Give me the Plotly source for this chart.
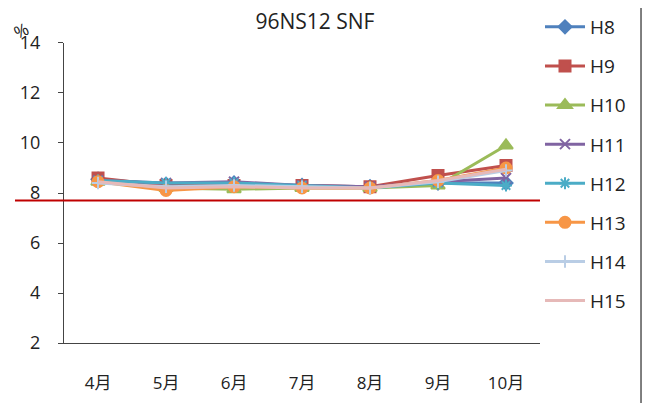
import plotly.graph_objects as go

months = ["4月", "5月", "6月", "7月", "8月", "9月", "10月"]

h8 = [8.55, 8.35, 8.4, 8.3, 8.25, 8.4, 8.4]
h9 = [8.6, 8.3, 8.3, 8.3, 8.25, 8.7, 9.1]
h10 = [8.45, 8.2, 8.15, 8.2, 8.2, 8.3, 9.9]
h11 = [8.5, 8.4, 8.45, 8.3, 8.25, 8.45, 8.6]
h12 = [8.5, 8.4, 8.4, 8.3, 8.2, 8.4, 8.3]
h13 = [8.45, 8.1, 8.25, 8.2, 8.2, 8.5, 9.0]
h14 = [8.4, 8.25, 8.3, 8.25, 8.2, 8.45, 8.9]
h15 = [8.45, 8.2, 8.25, 8.2, 8.2, 8.5, 8.95]

limit = 7.7

series = [
    ("H8", h8, "#4F81BD", "diamond", 10),
    ("H9", h9, "#C0504D", "square", 11),
    ("H10", h10, "#9BBB59", "triangle-up", 12),
    ("H11", h11, "#8064A2", "x-thin", 10),
    ("H12", h12, "#4BACC6", "asterisk", 10),
    ("H13", h13, "#F79646", "circle", 11),
    ("H14", h14, "#B9CDE5", "cross-thin", 9),
    ("H15", h15, "#E6B9B8", None, 0),
]

fig = go.Figure()
for name, vals, col, sym, size in series:
    mode = "lines+markers" if sym else "lines"
    fig.add_trace(go.Scatter(
        x=months, y=vals, name=name, mode=mode, legendgroup=name,
        line=dict(color=col, width=3),
        marker=dict(symbol=sym or "circle", size=size, color=col,
                    line=dict(color=col, width=2)),
    ))

# limit line
fig.add_shape(type="line", xref="paper", yref="y", x0=0.0107, x1=0.8147,
              y0=limit, y1=limit, line=dict(color="#C00000", width=2))
# right edge of the outer frame
fig.add_shape(type="line", xref="paper", yref="paper", x0=0.9694, x1=0.9694,
              y0=0, y1=1, line=dict(color="#555555", width=1.5))

fig.add_annotation(text="%", xref="paper", yref="paper", x=0.02, y=0.945,
                   xanchor="center", yanchor="middle",
                   showarrow=False, textangle=-25,
                   font=dict(size=17, color="#222"))

# zero margins, no auto-expansion; the plot area is placed with the axis
# domains instead. The page adds an 8px body margin on top of this.
fig.update_layout(
    width=653, height=403,
    margin=dict(l=0, r=0, t=0, b=0, autoexpand=False),
    paper_bgcolor="white", plot_bgcolor="white",
    font=dict(family="Open Sans, Noto Sans CJK JP", size=17, color="#222"),
    title=dict(text="96NS12 SNF", x=0.47, xanchor="center", y=0.965,
               yanchor="middle", font=dict(size=21)),
    showlegend=True,
    legend=dict(x=0.8147, y=1.0, xanchor="left", yanchor="top",
                font=dict(size=19), tracegroupgap=11.4, maxheight=400,
                bgcolor="rgba(0,0,0,0)", itemwidth=40),
    xaxis=dict(domain=[0.0858, 0.8147], showline=True, linecolor="#444",
               linewidth=1.2, showgrid=False, ticks="", range=[-0.5, 6.5],
               tickfont=dict(size=17), ticklabelstandoff=24,
               automargin=False),
    yaxis=dict(domain=[0.1687, 0.9132], range=[2, 14], dtick=2,
               showline=True, linecolor="#444", linewidth=1.2,
               showgrid=False, ticks="outside", ticklen=5, tickcolor="#444",
               zeroline=False, tickfont=dict(size=18), ticklabelstandoff=14,
               automargin=False),
)

fig.write_html("out.html")
